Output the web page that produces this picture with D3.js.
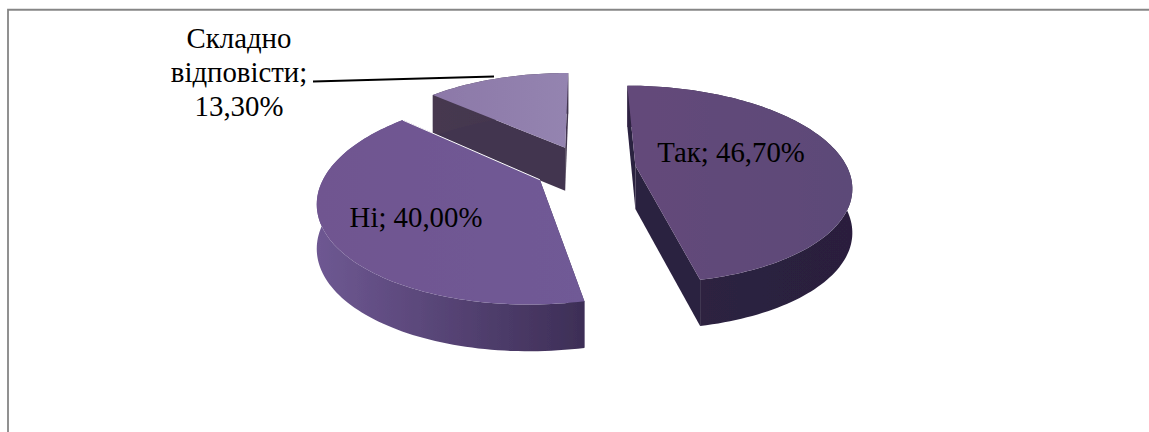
<!DOCTYPE html>
<html>
<head>
<meta charset="utf-8">
<script src="https://cdn.jsdelivr.net/npm/d3@7"></script>
<style>
html,body{margin:0;padding:0;background:#fff;}
svg{display:block;}
text{font-family:"Liberation Serif",serif;fill:#000;}
</style>
</head>
<body>
<div id="chart"></div>
<script>
const categories = ["Так", "Ні", "Складно відповісти"];
const values = [46.7, 40.0, 13.3];
const valueLabels = ["46,70%", "40,00%", "13,30%"];
const topColors = [["#644a7a", "#5c4a78"], ["#6f5590", "#6f5a96"], ["#8c78a8", "#9484b0"]];
const wallColors = [["#2f2242", "#291f3d"], ["#6e5892", "#3d2e56"], ["#46384f", "#41344e"]];
const faceColors = ["#2c2040", "#3d2e56", "#43364f"];

const W = 1149, H = 432;
const cx = 585, cy = 168, R = 212, tilt = 96, depth = 43.5, persp = 0.19, explode = 0.24;
const rotation = 0;

const svg = d3.select("#chart").append("svg").attr("width", W).attr("height", H);
const defs = svg.append("defs");
defs.append("filter").attr("id", "soft").append("feGaussianBlur").attr("stdDeviation", 0.6);

function gradient(id, pair) {
  const g = defs.append("linearGradient").attr("id", id);
  g.append("stop").attr("offset", "0%").attr("stop-color", pair[0]);
  g.append("stop").attr("offset", "100%").attr("stop-color", pair[1]);
}

// disc coordinates → screen, with a mild perspective
function project(X, Y, z) {
  const f = 1 / (1 + persp * Y);
  return [cx + R * X * f, cy - tilt * Y * f + depth * z * Math.pow(f, 0.3)];
}

const pie = d3.pie().sort(null).value(d => d)
  .startAngle(rotation).endAngle(rotation + 2 * Math.PI);
const arcs = pie(values);
const line = d3.line();

const slices = arcs.map((a, i) => {
  const mid = (a.startAngle + a.endAngle) / 2;
  const ox = explode * Math.sin(mid), oy = explode * Math.cos(mid);
  const n = Math.ceil((a.endAngle - a.startAngle) * 40);
  const angle = d3.scaleLinear().domain([0, n]).range([a.startAngle, a.endAngle]);
  const rim = d3.range(n + 1).map(k => [ox + Math.sin(angle(k)), oy + Math.cos(angle(k))]);
  return { i, apex: [ox, oy], rim, mid };
});

const g = svg.append("g").attr("filter", "url(#soft)");
const order = [2, 1, 0];
order.forEach(i => {
  const s = slices[i];
  gradient("top" + i, topColors[i]);
  gradient("wall" + i, wallColors[i]);
  const at = z => p => project(p[0], p[1], z);
  const first = s.rim[0], last = s.rim[s.rim.length - 1];
  // radial walls
  [first, last].forEach(p => {
    const quad = [at(0)(s.apex), at(0)(p), at(1)(p), at(1)(s.apex)];
    g.append("path").attr("d", line(quad) + "Z").attr("fill", faceColors[i]);
  });
  // outer wall
  const wall = s.rim.map(at(0)).concat(s.rim.slice().reverse().map(at(1)));
  g.append("path").attr("d", line(wall) + "Z").attr("fill", `url(#wall${i})`);
  // top face
  const top = [at(0)(s.apex)].concat(s.rim.map(at(0)));
  g.append("path").attr("d", line(top) + "Z").attr("fill", `url(#top${i})`);
  // thin light edge where the middle slice meets the wall behind it
  if (i === 1) {
    g.append("path").attr("d", line([at(0)(last), at(0)(s.apex)]))
      .attr("fill", "none").attr("stroke", "#ffffff").attr("stroke-width", 1);
  }
});

// frame
svg.append("path").attr("d", `M8,${H}V9.75H${W}`)
  .attr("fill", "none").attr("stroke", "#868686").attr("stroke-width", 1.8);

// leader line
svg.append("line").attr("x1", 313).attr("y1", 81.5).attr("x2", 494).attr("y2", 76.5)
  .attr("stroke", "#000").attr("stroke-width", 2);

// labels
const fontSize = 28.8;
svg.append("text").attr("x", 731).attr("y", 162).attr("text-anchor", "middle")
  .attr("font-size", fontSize).text(`${categories[0]}; ${valueLabels[0]}`);
svg.append("text").attr("x", 416).attr("y", 227).attr("text-anchor", "middle")
  .attr("font-size", fontSize).text(`${categories[1]}; ${valueLabels[1]}`);
const parts = categories[2].split(" ");
[parts[0], parts[1] + ";", valueLabels[2]].forEach((t, k) => {
  svg.append("text").attr("x", 239).attr("y", 48 + k * 34).attr("text-anchor", "middle")
    .attr("font-size", fontSize).text(t);
});
</script>
</body>
</html>
